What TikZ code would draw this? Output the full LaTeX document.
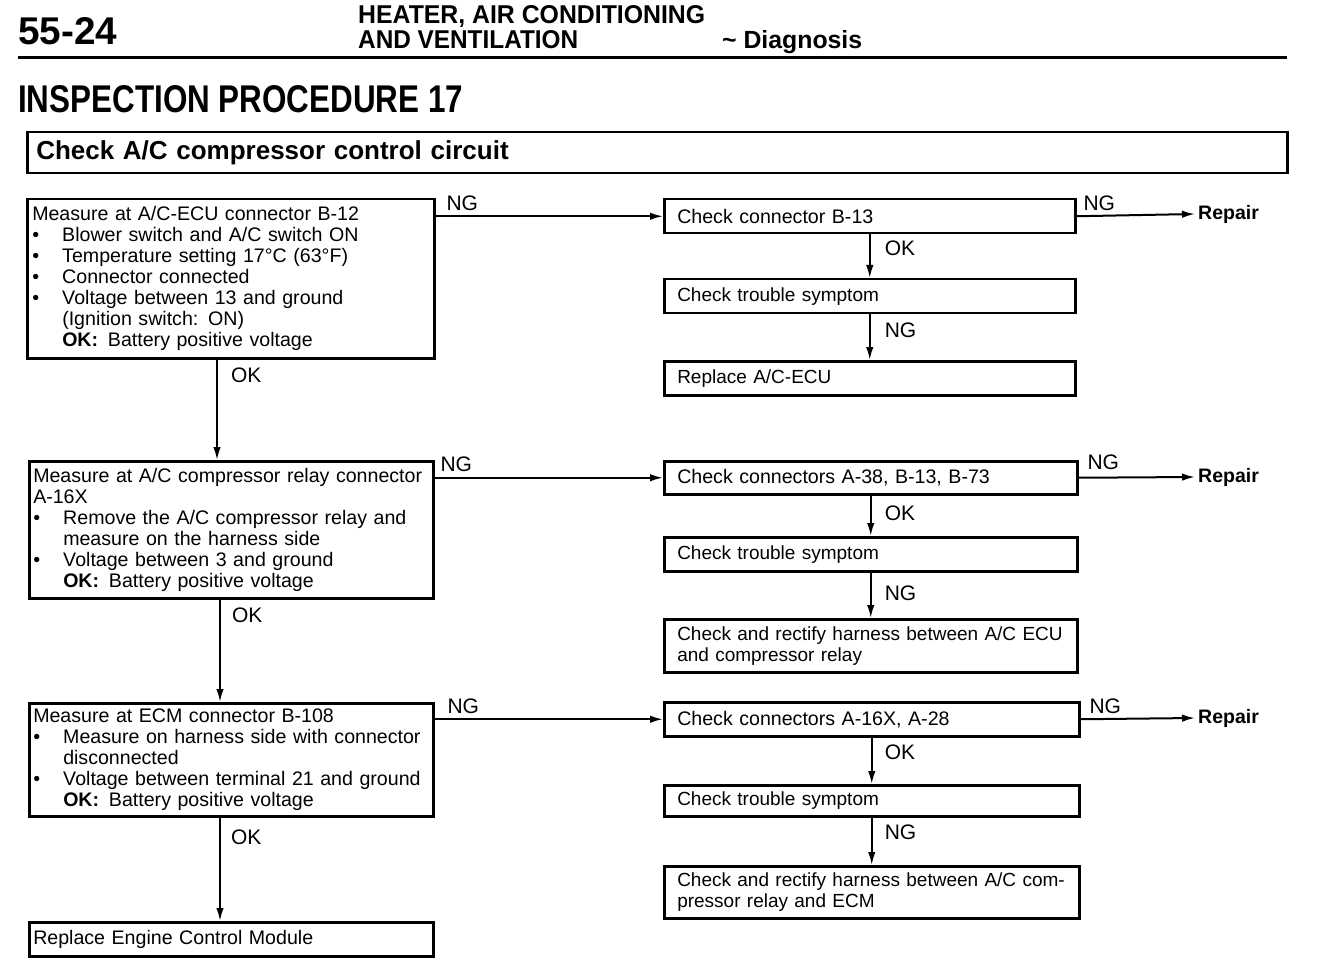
\documentclass[tikz,border=0pt]{standalone}
\usepackage{fontspec}
\setmainfont{Liberation Sans}
\usepackage{graphicx}
\usetikzlibrary{arrows.meta}
\newcommand\bl{\makebox[30pt][l]{\textbullet}}
\newcommand\ind{\hspace*{30pt}}
\newcommand\bodyfont{\fontsize{19}{21}\selectfont}
\newcommand\widefont{\fontsize{19.6}{21}\selectfont}
\begin{document}
\begin{tikzpicture}[x=1pt,y=-1pt,
  box/.style={draw, line width=2.5pt, anchor=north west, align=left, inner ysep=0pt, font=\bodyfont},
  lboxa/.style={box, inner xsep=5pt, font=\widefont},
  lboxb/.style={box, inner xsep=4pt, font=\widefont},
  rbox/.style={box, inner xsep=13pt},
  conn/.style={line width=2pt, -{Latex[length=13pt,width=7.5pt]}},
  lbl/.style={font=\fontsize{21}{21}\selectfont, inner sep=0pt},
  rep/.style={font=\fontsize{19.5}{20}\selectfont\bfseries, inner sep=3pt, anchor=west},
  hd/.style={inner sep=0pt, anchor=base west, font=\bfseries}]
\useasboundingbox (0,0) rectangle (1328,976);

% header
\node[hd] (pg) at (18,45) {\resizebox{99pt}{27pt}{55-24}};
\node[hd] (h1) at (358,24) {\resizebox{347pt}{18pt}{HEATER, AIR CONDITIONING}};
\node[hd] (h2) at (358,49) {\resizebox{220pt}{18pt}{AND VENTILATION}};
\node[hd] (h3) at (722,49) {\resizebox{140pt}{18pt}{\textasciitilde\ Diagnosis}};
\coordinate (r1) at (18,58);
\coordinate (r2) at (1287,58);
\draw[line width=3pt] (r1) -- (r2);
\node[hd] (ip) at (18,113) {\resizebox{445pt}{27pt}{INSPECTION PROCEDURE 17}};

% title box
\node[draw, line width=2.5pt, anchor=north west, minimum width=1260pt, minimum height=41pt, inner xsep=9pt, text width=1242pt, align=left, font=\fontsize{26}{28}\selectfont\bfseries] (title) at (26,131) {Check A/C compressor control circuit};

% left column
\node[lboxa, text width=397pt, minimum height=159pt] (L1) at (26,198) {%
Measure at A/C-ECU connector B-12\\
\bl Blower switch and A/C switch ON\\
\bl Temperature setting 17°C (63°F)\\
\bl Connector connected\\
\bl Voltage between 13 and ground\\
\ind (Ignition switch: ON)\\
\ind\textbf{OK:}\enspace Battery positive voltage};

\node[lboxb, text width=396pt, minimum height=137pt] (L2) at (28,460) {%
Measure at A/C compressor relay connector\\
A-16X\\
\bl Remove the A/C compressor relay and\\
\ind measure on the harness side\\
\bl Voltage between 3 and ground\\
\ind\textbf{OK:}\enspace Battery positive voltage};

\node[lboxb, text width=396pt, minimum height=113pt] (L3) at (28,702) {%
Measure at ECM connector B-108\\
\bl Measure on harness side with connector\\
\ind disconnected\\
\bl Voltage between terminal 21 and ground\\
\ind\textbf{OK:}\enspace Battery positive voltage};

\node[lboxb, text width=396pt, minimum height=34pt] (L4) at (28,921) {Replace Engine Control Module};

% right column
\node[rbox, text width=385pt, minimum height=34pt, font=\widefont] (R1a) at (663,198) {Check connector B-13};
\node[rbox, text width=385pt, minimum height=34pt] (R1b) at (663,278) {Check trouble symptom};
\node[rbox, text width=385pt, minimum height=34pt] (R1c) at (663,360) {Replace A/C-ECU};

\node[rbox, text width=387pt, minimum height=33pt, font=\widefont] (R2a) at (663,460) {Check connectors A-38, B-13, B-73};
\node[rbox, text width=387pt, minimum height=34pt] (R2b) at (663,536) {Check trouble symptom};
\node[rbox, text width=387pt, minimum height=53pt] (R2c) at (663,618) {Check and rectify harness between A/C ECU\\and compressor relay};

\node[rbox, text width=389pt, minimum height=34pt, font=\widefont] (R3a) at (663,701) {Check connectors A-16X, A-28};
\node[rbox, text width=389pt, minimum height=31pt] (R3b) at (663,784) {Check trouble symptom};
\node[rbox, text width=389pt, minimum height=52pt] (R3c) at (663,865) {Check and rectify harness between A/C com-\\pressor relay and ECM};

% repair labels
\node[rep] (P1) at (1195,214) {Repair};
\node[rep] (P2) at (1195,477) {Repair};
\node[rep] (P3) at (1195,718) {Repair};

% connectors: left column
\coordinate (xa) at (217,0);
\coordinate (xb) at (220,0);
\draw[conn] (L1.south -| xa) -- node[lbl, at start, anchor=west, xshift=13pt, yshift=-16pt]{OK} (L2.north -| xa);
\draw[conn] (L2.south -| xb) -- node[lbl, at start, anchor=west, xshift=11pt, yshift=-16pt]{OK} (L3.north -| xb);
\draw[conn] (L3.south -| xb) -- node[lbl, at start, anchor=west, xshift=10pt, yshift=-20pt]{OK} (L4.north -| xb);

% connectors: NG to right column
\draw[conn] (L1.east |- R1a.west) -- node[lbl, at start, anchor=south west, xshift=10pt, yshift=5pt]{NG} (R1a.west);
\draw[conn] (L2.east |- R2a.west) -- node[lbl, at start, anchor=south west, xshift=5pt, yshift=5pt]{NG} (R2a.west);
\draw[conn] (L3.east |- R3a.west) -- node[lbl, at start, anchor=south west, xshift=12pt, yshift=5pt]{NG} (R3a.west);

% right column verticals
\draw[conn] (R1a.south) -- node[lbl, at start, anchor=west, xshift=14pt, yshift=-14pt]{OK} (R1b.north);
\draw[conn] (R1b.south) -- node[lbl, at start, anchor=west, xshift=14pt, yshift=-16pt]{NG} (R1c.north);
\draw[conn] (R2a.south) -- node[lbl, at start, anchor=west, xshift=13pt, yshift=-18pt]{OK} (R2b.north);
\draw[conn] (R2b.south) -- node[lbl, at start, anchor=west, xshift=13pt, yshift=-21pt]{NG} (R2c.north);
\draw[conn] (R3a.south) -- node[lbl, at start, anchor=west, xshift=12pt, yshift=-15pt]{OK} (R3b.north);
\draw[conn] (R3b.south) -- node[lbl, at start, anchor=west, xshift=12pt, yshift=-15pt]{NG} (R3c.north);

% repair arrows
\draw[conn] (R1a.east) -- node[lbl, at start, anchor=south west, xshift=6pt, yshift=5pt]{NG} (P1.west);
\draw[conn] (R2a.east) -- node[lbl, at start, anchor=south west, xshift=8pt, yshift=7pt]{NG} (P2.west);
\draw[conn] (R3a.east) -- node[lbl, at start, anchor=south west, xshift=8pt, yshift=5pt]{NG} (P3.west);
\end{tikzpicture}
\end{document}
